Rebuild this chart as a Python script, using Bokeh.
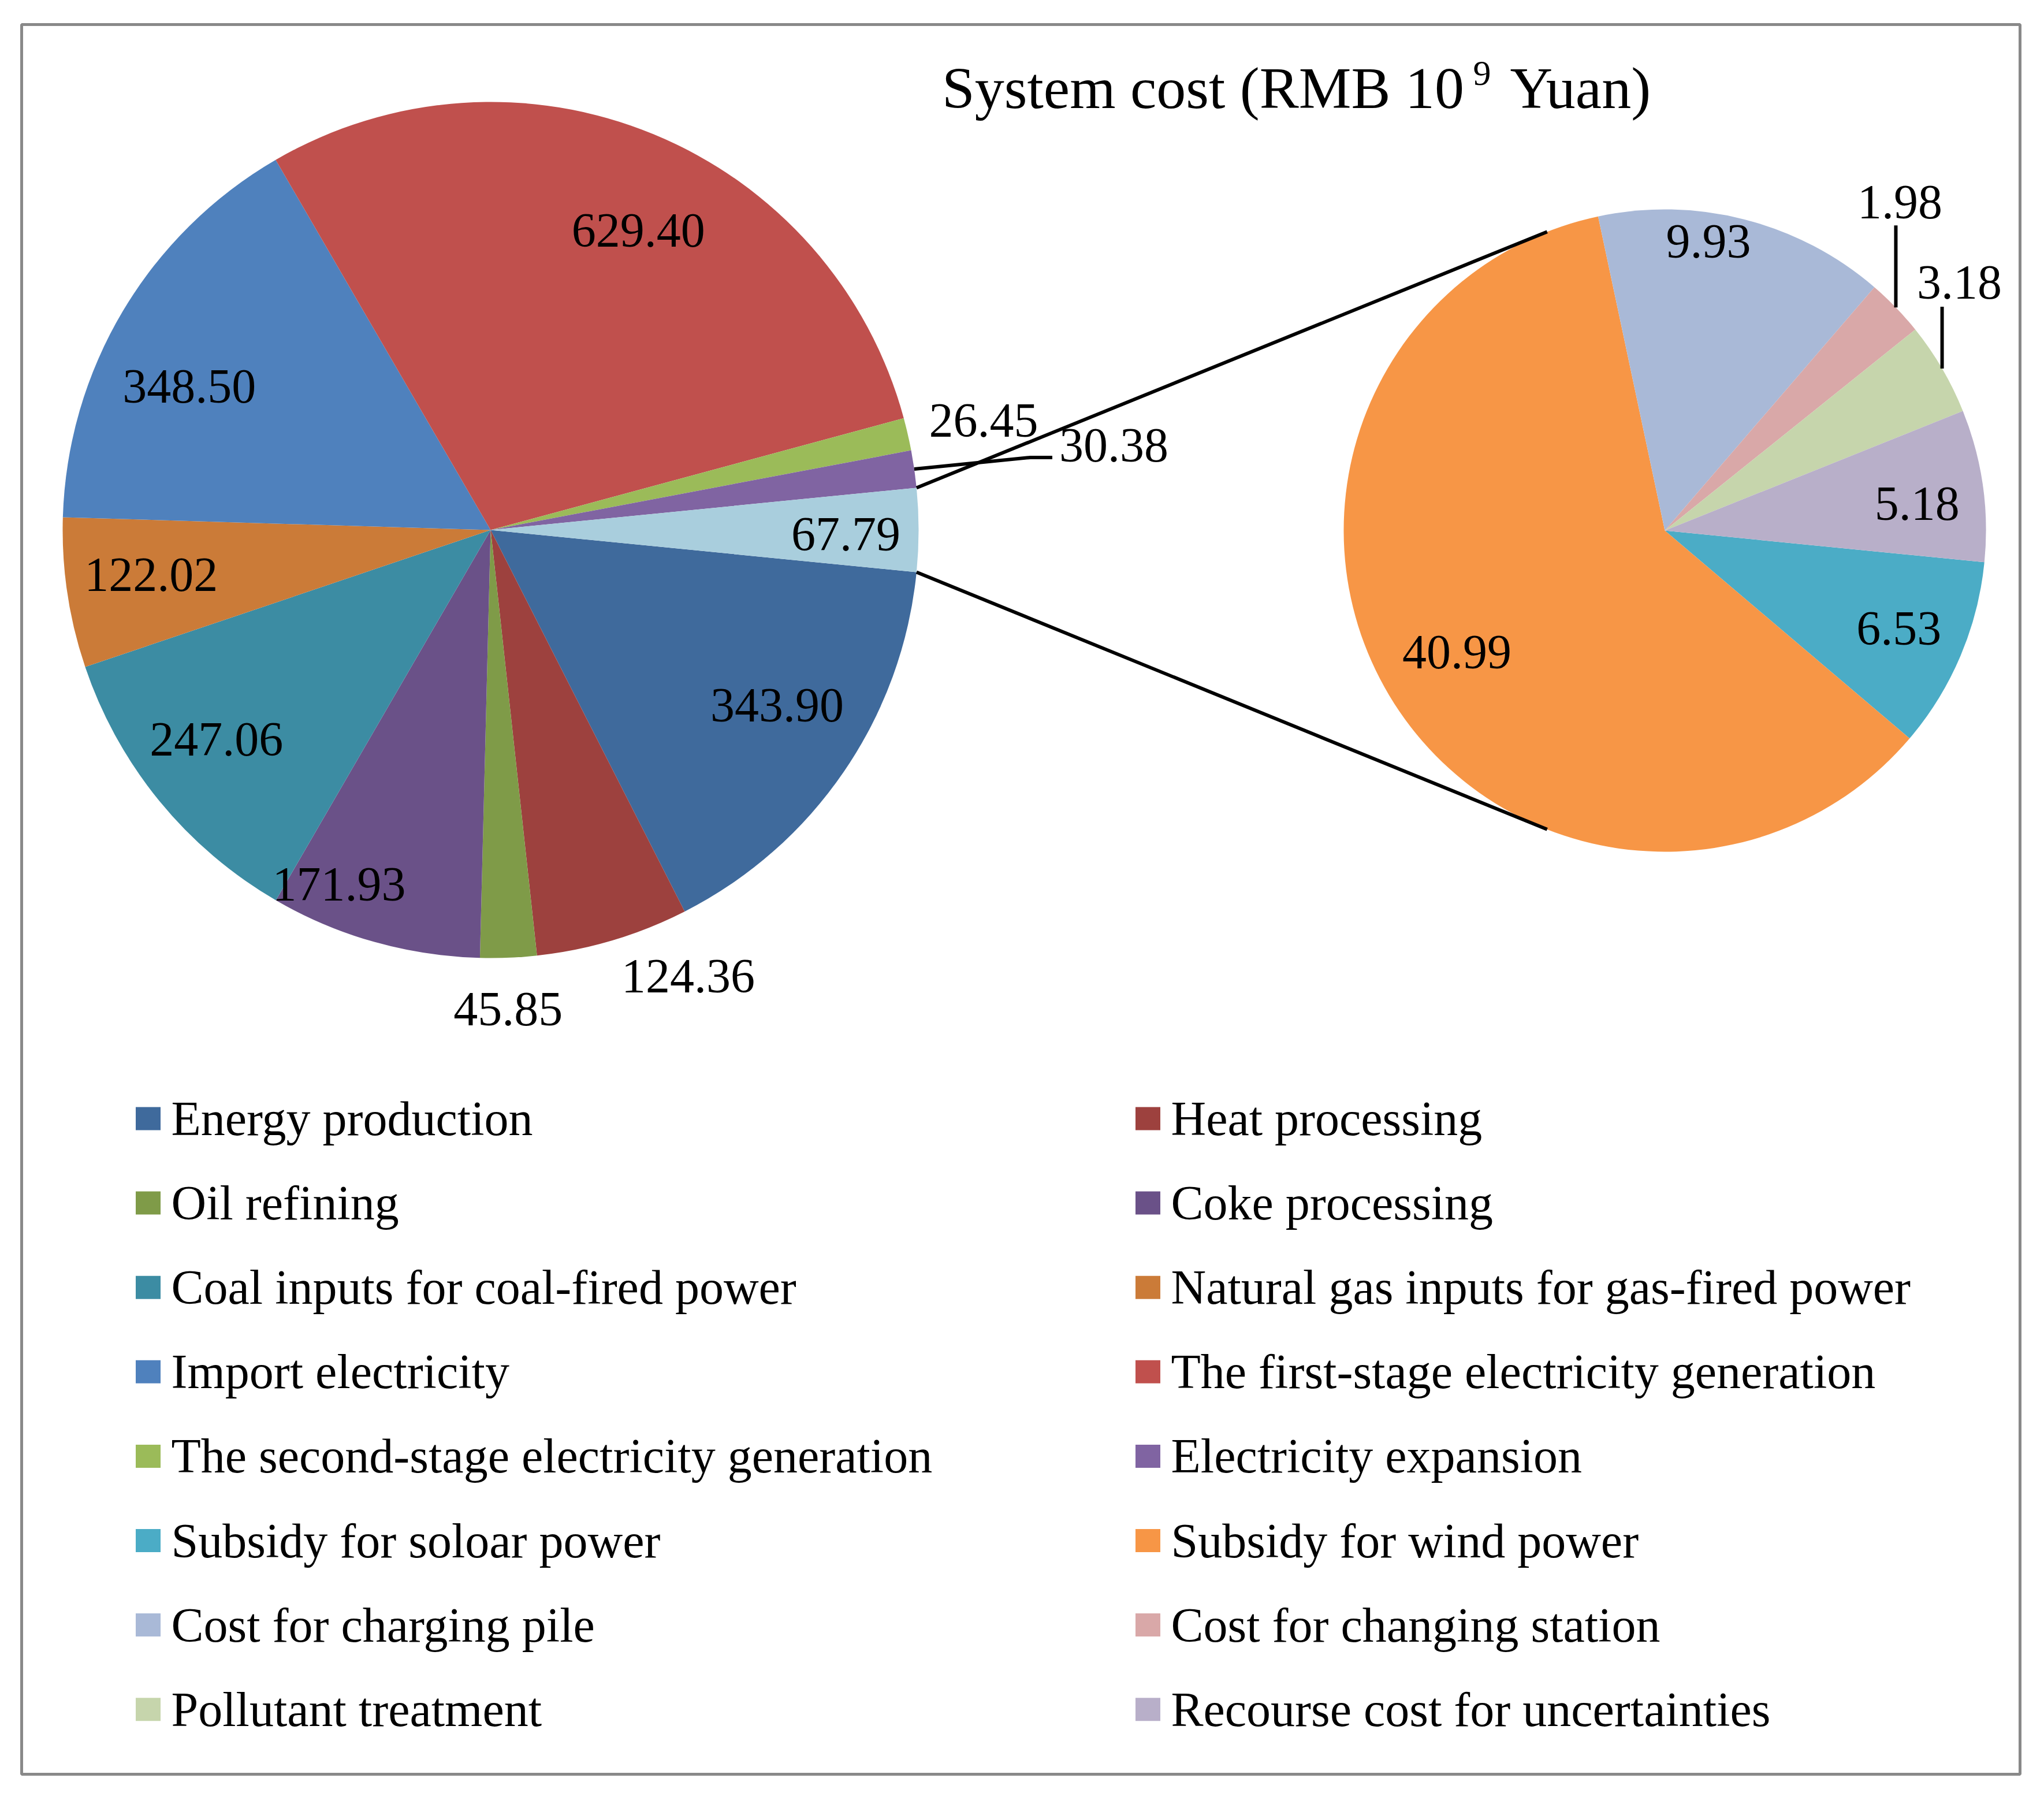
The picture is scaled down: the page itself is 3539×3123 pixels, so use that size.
import numpy as np
from bokeh.plotting import figure
from bokeh.models import Range1d
from bokeh.core.properties import value
from bokeh.embed import file_html
from bokeh.resources import INLINE

# ---------------- data ----------------
main_names = ["Energy production", "Heat processing", "Oil refining", "Coke processing",
              "Coal inputs for coal-fired power", "Natural gas inputs for gas-fired power",
              "Import electricity", "The first-stage electricity generation",
              "The second-stage electricity generation", "Electricity expansion"]
main_values = [343.90, 124.36, 45.85, 171.93, 247.06, 122.02, 348.50, 629.40, 26.45, 30.38]

sub_names = ["Subsidy for soloar power", "Subsidy for wind power", "Cost for charging pile",
             "Cost for changing station", "Pollutant treatment", "Recourse cost for uncertainties"]
sub_values = [6.53, 40.99, 9.93, 1.98, 3.18, 5.18]

title_main = "System cost (RMB  10"
title_sup = "9"
title_tail = "Yuan)"

# ---------------- styles ----------------
main_colors = ["#3F6A9C", "#9D413E", "#7F9B48", "#6A5188", "#3C8CA3", "#CB7B38",
               "#4F81BD", "#C0504D", "#9BBB59", "#8064A2"]
other_color = "#A9CEDD"
sub_colors = ["#4BACC6", "#F79646", "#A9B9D7", "#D9A8A8", "#C6D5AC", "#B8AFC9"]

FONT = value("Liberation Serif")
FS = "84px"
W_IMG, H_IMG = 3539, 3123


def Y(yimg):
    return H_IMG - yimg


# pie geometry (image pixels)
MC = (849, 917)
MR = 741
SC = (2882, 918)
SR = 556
CONNECT_DEG = 111.5

# label layout (radius factor, angle nudge in deg); None = leader label
main_label_layout = [(0.785, 2.85), (1.14, 7.3), (1.12, -0.3), (0.90, -7.4), (0.806, -1.9),
                     (0.80, -1.0), (0.78, 5.3), (0.78, -3.9), (1.18, -0.4), None]
other_label_layout = (0.83, -0.7)
sub_label_layout = [(0.79, 0.3), (0.75, -0.5), (0.91, 5.8), None, None, (0.79, -2.0)]

p = figure(width=W_IMG - 16, height=H_IMG - 16,
           x_range=Range1d(0, W_IMG - 16), y_range=Range1d(16, H_IMG),
           x_axis_type=None, y_axis_type=None, output_backend="svg",
           toolbar_location=None, min_border=0)
p.grid.visible = False
p.outline_line_color = None
p.background_fill_color = "white"
p.border_fill_color = "white"

# frame
p.quad(left=[37], right=[3497], top=[Y(42)], bottom=[Y(3071)], fill_color=None,
       line_color="#898989", line_width=5)

# ---------------- main pie ----------------
other_total = sum(sub_values)
mvals = np.array(main_values + [other_total])
mcols = main_colors + [other_color]
mfrac = mvals / mvals.sum() * 2 * np.pi
m_start0 = -mfrac[-1] / 2.0           # first slice starts just below the "other" slice
m_starts = m_start0 - np.concatenate([[0], np.cumsum(mfrac)[:-1]])
m_ends = m_starts - mfrac
m_mid = (m_starts + m_ends) / 2

p.wedge(x=[MC[0]] * len(mvals), y=[Y(MC[1])] * len(mvals), radius=MR,
        start_angle=list(m_starts), end_angle=list(m_ends), direction="clock",
        fill_color=mcols, line_color=None)

# ---------------- secondary pie ----------------
svals = np.array(sub_values)
sfrac = svals / svals.sum() * 2 * np.pi
s_start0 = m_start0
s_starts = s_start0 - np.concatenate([[0], np.cumsum(sfrac)[:-1]])
s_ends = s_starts - sfrac
s_mid = (s_starts + s_ends) / 2

p.wedge(x=[SC[0]] * len(svals), y=[Y(SC[1])] * len(svals), radius=SR,
        start_angle=list(s_starts), end_angle=list(s_ends), direction="clock",
        fill_color=sub_colors, line_color=None)

# connector lines
ha = mfrac[-1] / 2.0
ca = np.deg2rad(CONNECT_DEG)
xs_c, ys_c = [], []
for sgn in (1, -1):
    x0 = MC[0] + MR * np.cos(sgn * ha)
    y0 = Y(MC[1]) + MR * np.sin(sgn * ha)
    x1 = SC[0] + SR * np.cos(sgn * ca)
    y1 = Y(SC[1]) + SR * np.sin(sgn * ca)
    xs_c.append([x0, x1])
    ys_c.append([y0, y1])
p.multi_line(xs=xs_c, ys=ys_c, line_color="black", line_width=6)

# ---------------- labels ----------------
lx, ly, lt = [], [], []
for i, v in enumerate(main_values):
    lay = main_label_layout[i]
    if lay is None:
        continue
    a = m_mid[i] + np.deg2rad(lay[1])
    lx.append(MC[0] + lay[0] * MR * np.cos(a))
    ly.append(Y(MC[1]) + lay[0] * MR * np.sin(a))
    lt.append("%.2f" % v)
a = m_mid[-1] + np.deg2rad(other_label_layout[1])
lx.append(MC[0] + other_label_layout[0] * MR * np.cos(a))
ly.append(Y(MC[1]) + other_label_layout[0] * MR * np.sin(a))
lt.append("%.2f" % other_total)

for i, v in enumerate(sub_values):
    lay = sub_label_layout[i]
    if lay is None:
        continue
    a = s_mid[i] + np.deg2rad(lay[1])
    lx.append(SC[0] + lay[0] * SR * np.cos(a))
    ly.append(Y(SC[1]) + lay[0] * SR * np.sin(a))
    lt.append("%.2f" % v)

p.text(x=lx, y=ly, text=lt, text_font=FONT, text_font_size=FS,
       text_align="center", text_baseline="middle", text_color="black")

# leader label: Electricity expansion
i = 9
ex = MC[0] + MR * np.cos(m_mid[i])
ey = Y(MC[1]) + MR * np.sin(m_mid[i])
p.line(x=[ex, ex + 201, ex + 239], y=[ey, ey + 20, ey + 20], line_color="black", line_width=6)
p.text(x=[ex + 251], y=[ey + 41], text=["%.2f" % main_values[i]], text_font=FONT,
       text_font_size=FS, text_align="left", text_baseline="middle", text_color="black")

# leader labels on secondary pie (vertical leaders)
leader_specs = {3: (142, 7, 182), 4: (107, 30, 149)}
for i, (ln, dx, dy) in leader_specs.items():
    ex = SC[0] + SR * np.cos(s_mid[i])
    ey = Y(SC[1]) + SR * np.sin(s_mid[i])
    p.line(x=[ex, ex], y=[ey, ey + ln], line_color="black", line_width=6)
    p.text(x=[ex + dx], y=[ey + dy], text=["%.2f" % sub_values[i]], text_font=FONT,
           text_font_size=FS, text_align="center", text_baseline="middle", text_color="black")

# ---------------- title ----------------
p.text(x=[2560], y=[Y(152)], text=[title_main], text_font=FONT, text_font_size="102px",
       text_align="right", text_baseline="middle", text_color="black")
p.text(x=[2550], y=[Y(126)], text=[title_sup], text_font=FONT, text_font_size="62px",
       text_align="left", text_baseline="middle", text_color="black")
p.text(x=[2614], y=[Y(152)], text=[title_tail], text_font=FONT, text_font_size="102px",
       text_align="left", text_baseline="middle", text_color="black")

# ---------------- legend ----------------
leg_names = main_names + sub_names
leg_colors = main_colors + sub_colors
col_sq_x = [256, 1987]
col_tx_x = [296, 2027]
row0, row_step = 1936, 146.1
sqx, sqy, tx, ty = [], [], [], []
for k, nm in enumerate(leg_names):
    r, c = divmod(k, 2)
    yy = Y(row0 + r * row_step)
    sqx.append(col_sq_x[c])
    sqy.append(yy)
    tx.append(col_tx_x[c])
    ty.append(yy)
p.rect(x=sqx, y=sqy, width=43, height=40, fill_color=leg_colors, line_color=None)
p.text(x=tx, y=ty, text=leg_names, text_font=FONT, text_font_size=FS,
       text_align="left", text_baseline="middle", text_color="black")

open("out.html", "w").write(file_html(p, INLINE))
